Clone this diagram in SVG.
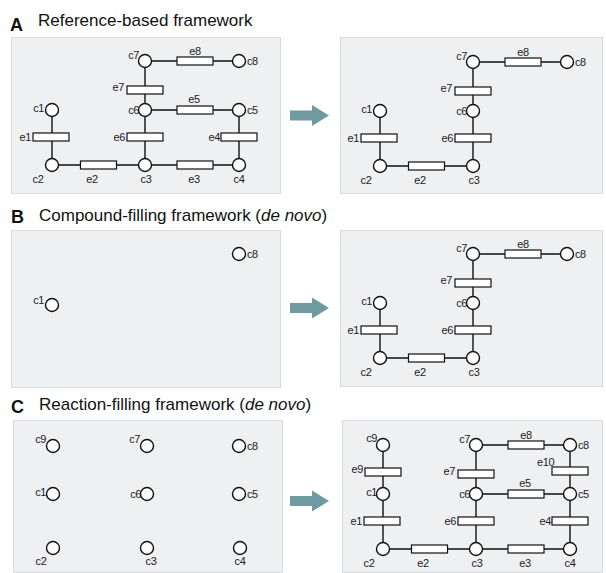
<svg xmlns="http://www.w3.org/2000/svg" width="606" height="573" viewBox="0 0 606 573">
<defs>
<style>
.bg{fill:#ffffff}
.box{fill:#eff0f2;stroke:#d9dbde;stroke-width:1}
.n{fill:#ffffff;stroke:#111;stroke-width:1.4}
.r{fill:#ffffff;stroke:#111;stroke-width:1.2}
.l{stroke:#111;stroke-width:1.4;fill:none}
.t{font-family:"Liberation Sans",Arial,sans-serif;font-size:11px;fill:#222;letter-spacing:-0.4px}
.e{text-anchor:end}
.m{text-anchor:middle}
.h{font-family:"Liberation Sans",Arial,sans-serif;font-size:17px;fill:#111}
.hl{font-family:"Liberation Sans",Arial,sans-serif;font-size:18px;font-weight:bold;fill:#111}
.arr{fill:#6f9aa2}
</style>
</defs>
<rect class="bg" x="0" y="0" width="606" height="573"/>

<!-- titles -->
<text class="hl" x="10" y="31">A</text>
<text class="h" x="38" y="26">Reference-based framework</text>
<text class="hl" x="11" y="223">B</text>
<text class="h" x="39" y="221">Compound-filling framework (<tspan font-style="italic">de novo</tspan>)</text>
<text class="hl" x="11" y="413">C</text>
<text class="h" x="39" y="410">Reaction-filling framework (<tspan font-style="italic">de novo</tspan>)</text>

<!-- panel boxes -->
<rect class="box" x="11.5" y="37.5" width="269" height="156"/>
<rect class="box" x="340.5" y="37.5" width="262" height="156"/>
<rect class="box" x="11.5" y="230.5" width="269" height="157"/>
<rect class="box" x="340.5" y="230.5" width="262" height="156"/>
<rect class="box" x="13.5" y="420.5" width="269" height="152"/>
<rect class="box" x="342.5" y="420.5" width="260" height="152"/>

<!-- arrows -->
<polygon class="arr" points="290,110.5 312,110.5 312,105 329,115.5 312,126 312,120.5 290,120.5"/>
<polygon class="arr" points="290,303 312,303 312,297.5 329,308 312,318.5 312,313 290,313"/>
<polygon class="arr" points="290,496 312,496 312,490.5 329,501 312,511.5 312,506 290,506"/>

<!-- ===== Panel A left ===== -->
<g id="panelA-left">
<g id="A-connectors">
<path class="l" d="M52,110V165H239V110H145M145,165V61H239"/>
</g>
<g id="A-e1"><rect class="r" x="33" y="133" width="36" height="8"/><text class="t e" x="31" y="141">e1</text></g>
<g id="A-e2"><rect class="r" x="80.5" y="161" width="36" height="8"/><text class="t m" x="92" y="183">e2</text></g>
<g id="A-e3"><rect class="r" x="177" y="161" width="36" height="8"/><text class="t m" x="194" y="183">e3</text></g>
<g id="A-e4"><rect class="r" x="221" y="133" width="36" height="8"/><text class="t e" x="220" y="141">e4</text></g>
<g id="A-e5"><rect class="r" x="177" y="106" width="36" height="8"/><text class="t m" x="194" y="103">e5</text></g>
<g id="A-e6"><rect class="r" x="127" y="133" width="36" height="8"/><text class="t e" x="125" y="141">e6</text></g>
<g id="A-e7"><rect class="r" x="127" y="86" width="36" height="8"/><text class="t e" x="124" y="91">e7</text></g>
<g id="A-e8"><rect class="r" x="177" y="57" width="36" height="8"/><text class="t m" x="195" y="55">e8</text></g>
<g id="A-c1"><circle class="n" cx="52" cy="110" r="6.5"/><text class="t e" x="44" y="112">c1</text></g>
<g id="A-c2"><circle class="n" cx="52" cy="165" r="6.5"/><text class="t m" x="38" y="183">c2</text></g>
<g id="A-c3"><circle class="n" cx="145" cy="165" r="6.5"/><text class="t m" x="146" y="183">c3</text></g>
<g id="A-c4"><circle class="n" cx="239" cy="165" r="6.5"/><text class="t m" x="239" y="183">c4</text></g>
<g id="A-c5"><circle class="n" cx="239" cy="110" r="6.5"/><text class="t" x="247" y="114">c5</text></g>
<g id="A-c6"><circle class="n" cx="145" cy="110" r="6.5"/><text class="t e" x="139" y="114">c6</text></g>
<g id="A-c7"><circle class="n" cx="145" cy="61" r="6.5"/><text class="t e" x="139" y="59">c7</text></g>
<g id="A-c8"><circle class="n" cx="239" cy="61" r="6.5"/><text class="t" x="247" y="65">c8</text></g>
</g>

<!-- ===== Panel A right ===== -->
<g id="panelA-right" transform="translate(328,1)">
<g id="Ar-connectors">
<path class="l" d="M52,110V165H145V61H239"/>
</g>
<g id="Ar-e1"><rect class="r" x="33" y="133" width="36" height="8"/><text class="t e" x="31" y="141">e1</text></g>
<g id="Ar-e2"><rect class="r" x="80.5" y="161" width="36" height="8"/><text class="t m" x="92" y="183">e2</text></g>
<g id="Ar-e6"><rect class="r" x="127" y="133" width="36" height="8"/><text class="t e" x="125" y="141">e6</text></g>
<g id="Ar-e7"><rect class="r" x="127" y="86" width="36" height="8"/><text class="t e" x="124" y="91">e7</text></g>
<g id="Ar-e8"><rect class="r" x="177" y="57" width="36" height="8"/><text class="t m" x="195" y="55">e8</text></g>
<g id="Ar-c1"><circle class="n" cx="52" cy="110" r="6.5"/><text class="t e" x="44" y="112">c1</text></g>
<g id="Ar-c2"><circle class="n" cx="52" cy="165" r="6.5"/><text class="t m" x="38" y="183">c2</text></g>
<g id="Ar-c3"><circle class="n" cx="145" cy="165" r="6.5"/><text class="t m" x="146" y="183">c3</text></g>
<g id="Ar-c6"><circle class="n" cx="145" cy="110" r="6.5"/><text class="t e" x="139" y="114">c6</text></g>
<g id="Ar-c7"><circle class="n" cx="145" cy="61" r="6.5"/><text class="t e" x="139" y="59">c7</text></g>
<g id="Ar-c8"><circle class="n" cx="239" cy="61" r="6.5"/><text class="t" x="247" y="65">c8</text></g>
</g>

<!-- ===== Panel B left ===== -->
<g id="panelB-left">
<g id="B-c8"><circle class="n" cx="239" cy="254" r="6.5"/><text class="t" x="247" y="258">c8</text></g>
<g id="B-c1"><circle class="n" cx="52" cy="305" r="6.5"/><text class="t e" x="44" y="304">c1</text></g>
</g>

<!-- ===== Panel B right ===== -->
<g id="panelB-right" transform="translate(328,193)">
<g id="Br-connectors">
<path class="l" d="M52,110V165H145V61H239"/>
</g>
<g id="Br-e1"><rect class="r" x="33" y="133" width="36" height="8"/><text class="t e" x="31" y="141">e1</text></g>
<g id="Br-e2"><rect class="r" x="80.5" y="161" width="36" height="8"/><text class="t m" x="92" y="183">e2</text></g>
<g id="Br-e6"><rect class="r" x="127" y="133" width="36" height="8"/><text class="t e" x="125" y="141">e6</text></g>
<g id="Br-e7"><rect class="r" x="127" y="86" width="36" height="8"/><text class="t e" x="124" y="91">e7</text></g>
<g id="Br-e8"><rect class="r" x="177" y="57" width="36" height="8"/><text class="t m" x="195" y="55">e8</text></g>
<g id="Br-c1"><circle class="n" cx="52" cy="110" r="6.5"/><text class="t e" x="44" y="112">c1</text></g>
<g id="Br-c2"><circle class="n" cx="52" cy="165" r="6.5"/><text class="t m" x="38" y="183">c2</text></g>
<g id="Br-c3"><circle class="n" cx="145" cy="165" r="6.5"/><text class="t m" x="146" y="183">c3</text></g>
<g id="Br-c6"><circle class="n" cx="145" cy="110" r="6.5"/><text class="t e" x="139" y="114">c6</text></g>
<g id="Br-c7"><circle class="n" cx="145" cy="61" r="6.5"/><text class="t e" x="139" y="59">c7</text></g>
<g id="Br-c8"><circle class="n" cx="239" cy="61" r="6.5"/><text class="t" x="247" y="65">c8</text></g>
</g>

<!-- ===== Panel C left ===== -->
<g id="panelC-left">
<g id="C-c9"><circle class="n" cx="53" cy="446" r="6.5"/><text class="t e" x="46" y="443">c9</text></g>
<g id="C-c7"><circle class="n" cx="147" cy="446" r="6.5"/><text class="t e" x="140" y="443">c7</text></g>
<g id="C-c8"><circle class="n" cx="239" cy="446" r="6.5"/><text class="t" x="247" y="450">c8</text></g>
<g id="C-c1"><circle class="n" cx="53" cy="494" r="6.5"/><text class="t e" x="46" y="496">c1</text></g>
<g id="C-c6"><circle class="n" cx="147" cy="494" r="6.5"/><text class="t e" x="141" y="498">c6</text></g>
<g id="C-c5"><circle class="n" cx="239" cy="494" r="6.5"/><text class="t" x="247" y="498">c5</text></g>
<g id="C-c2"><circle class="n" cx="53" cy="548" r="6.5"/><text class="t m" x="41" y="565">c2</text></g>
<g id="C-c3"><circle class="n" cx="147" cy="548" r="6.5"/><text class="t m" x="151" y="565">c3</text></g>
<g id="C-c4"><circle class="n" cx="240" cy="548" r="6.5"/><text class="t m" x="240" y="565">c4</text></g>
</g>

<!-- ===== Panel C right ===== -->
<g id="panelC-right" transform="translate(331,384)">
<g id="Cr-connectors">
<path class="l" d="M52,61V165H239V61H145V165M145,110H239"/>
</g>
<g id="Cr-e1"><rect class="r" x="33" y="133" width="36" height="8"/><text class="t e" x="31" y="141">e1</text></g>
<g id="Cr-e2"><rect class="r" x="80.5" y="161" width="36" height="8"/><text class="t m" x="92" y="183">e2</text></g>
<g id="Cr-e3"><rect class="r" x="177" y="161" width="36" height="8"/><text class="t m" x="194" y="183">e3</text></g>
<g id="Cr-e4"><rect class="r" x="221" y="133" width="36" height="8"/><text class="t e" x="220" y="141">e4</text></g>
<g id="Cr-e5"><rect class="r" x="177" y="106" width="36" height="8"/><text class="t m" x="194" y="103">e5</text></g>
<g id="Cr-e6"><rect class="r" x="127" y="133" width="36" height="8"/><text class="t e" x="125" y="141">e6</text></g>
<g id="Cr-e7"><rect class="r" x="127" y="86" width="36" height="8"/><text class="t e" x="124" y="91">e7</text></g>
<g id="Cr-e8"><rect class="r" x="177" y="57" width="36" height="8"/><text class="t m" x="195" y="55">e8</text></g>
<g id="Cr-e9"><rect class="r" x="34" y="84" width="36" height="8"/><text class="t e" x="32" y="89">e9</text></g>
<g id="Cr-e10"><rect class="r" x="221" y="83" width="36" height="8"/><text class="t" x="206" y="82">e10</text></g>
<g id="Cr-c9"><circle class="n" cx="52" cy="61" r="6.5"/><text class="t e" x="46" y="58">c9</text></g>
<g id="Cr-c1"><circle class="n" cx="52" cy="110" r="6.5"/><text class="t e" x="46" y="112">c1</text></g>
<g id="Cr-c2"><circle class="n" cx="52" cy="165" r="6.5"/><text class="t m" x="38" y="183">c2</text></g>
<g id="Cr-c3"><circle class="n" cx="145" cy="165" r="6.5"/><text class="t m" x="146" y="183">c3</text></g>
<g id="Cr-c4"><circle class="n" cx="239" cy="165" r="6.5"/><text class="t m" x="239" y="183">c4</text></g>
<g id="Cr-c5"><circle class="n" cx="239" cy="110" r="6.5"/><text class="t" x="247" y="114">c5</text></g>
<g id="Cr-c6"><circle class="n" cx="145" cy="110" r="6.5"/><text class="t e" x="139" y="114">c6</text></g>
<g id="Cr-c7"><circle class="n" cx="145" cy="61" r="6.5"/><text class="t e" x="139" y="59">c7</text></g>
<g id="Cr-c8"><circle class="n" cx="239" cy="61" r="6.5"/><text class="t" x="247" y="65">c8</text></g>
</g>
</svg>
